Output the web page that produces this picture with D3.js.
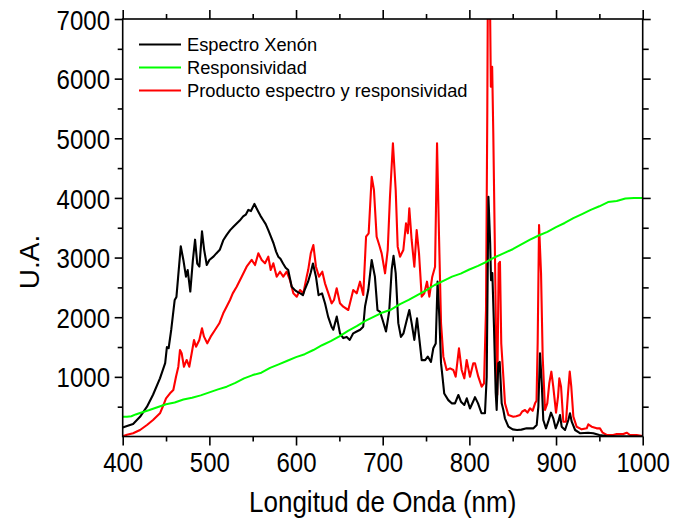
<!DOCTYPE html>
<html>
<head>
<meta charset="utf-8">
<script src="https://cdn.jsdelivr.net/npm/d3@7"></script>
<style>
  html, body { margin: 0; padding: 0; background: #fff; }
  svg { display: block; font-family: "Liberation Sans", Arial, sans-serif; }
</style>
</head>
<body>
<svg id="chart" width="673" height="523"></svg>
<script>
// ---------------- DATA ----------------
const xenonNm = [400,405,412,420,428,435,443,449,451,453,456,460,462,464,467,470,473,475,478,481,483.5,486,488.5,491.5,494,497,500,505,508,512,516,520,524,528,531.5,535,539,542,545,548,552,554,556.5,559,562,565,568,571,574,577,579.5,582,585,588,591,593,595,599,602,605,608,610,614,617,619.5,623,626,630,633.5,637,641,643,647,650.7,654.5,658.5,662,666,670,674,677.5,679.6,683.4,687.3,691,694,697,700,703.8,707.5,710.4,712.5,715,718,721,724,727.7,730.7,733.4,736.5,739.6,742,745,749,752,755.7,758.4,761.2,763.3,765.3,767.3,769,771,775.7,779.6,783.4,787.3,790.3,794.2,797,800.7,804.5,806.5,810,814,818,820,822,824,825,826.5,828.4,830.4,831.5,833.4,835,837.3,839.2,841,845,850,855,860,866,870,874,877.7,879.6,881.5,883.5,885.3,888.4,891,894.2,896.8,899.6,902.6,904.6,906.5,910.4,914.2,916.1,918.1,922,928,937,943,950,958,970,1000];
const xenonVal = [150,175,210,330,500,700,975,1230,1500,1480,1790,2290,2340,2680,3190,2960,2680,2790,2430,2960,3300,2900,2850,3440,3130,2875,2960,3020,3070,3130,3290,3380,3460,3520,3570,3620,3690,3720,3800,3780,3900,3840,3770,3700,3630,3560,3460,3350,3240,3100,3015,2980,2900,2830,2790,2650,2510,2450,2420,2400,2370,2460,2600,2750,2900,2680,2370,2400,2230,2010,1840,1790,2010,1730,1650,1670,1620,1730,1760,1790,1840,2180,2460,2960,2680,2120,2090,1950,1760,2100,2800,3030,2740,1900,1670,1730,1950,2120,1900,1620,1980,1670,1280,1280,1340,1250,1480,1560,2600,2010,1230,1000,720,610,556,556,696,584,528,640,470,590,660,556,390,390,1000,4020,3240,2620,2740,1840,730,444,1227,1250,556,444,305,164,120,109,115,137,137,137,193,500,1395,890,277,137,248,400,305,137,248,360,164,109,277,389,248,109,54,64,54,25,8,3,0];

const respNm = [400,405,410,415,420,430,440,450,460,470,480,490,500,510,520,530,540,550,560,570,580,590,600,610,620,630,640,650,660,670,680,690,700,710,720,730,740,750,760,770,780,790,800,810,820,830,840,850,860,870,880,890,900,910,920,930,940,950,960,970,980,990,1000];
const respVal = [330,330,340,370,395,440,490,540,570,620,650,690,740,790,835,900,975,1030,1070,1150,1210,1270,1330,1380,1450,1530,1600,1680,1770,1850,1940,2010,2080,2130,2220,2290,2370,2450,2540,2610,2680,2730,2800,2860,2930,3010,3075,3140,3220,3300,3370,3430,3510,3580,3660,3730,3800,3860,3930,3950,3990,4000,4000];

const prodNm = [400,405,412,420,428,435,443,447,450,454.6,458.4,461.5,464.2,466.1,468,470.7,473.8,476.8,479.6,482.3,484.6,488.4,491.5,493.8,497.6,501.5,506.5,511.5,516,520,523.8,527,531.5,537.3,543,548.8,552.7,556.5,560.4,564.2,568,570.8,573.8,577.7,581.5,585.3,589.2,593,596.9,600.8,604.6,608.4,612.3,614,617,620,623,626.5,630.3,633.4,637.3,641.1,643.8,646.9,650.7,654.5,660.3,666,670,673.8,677.6,680.8,683.8,687.3,689.9,693,696,698.8,702.7,705.8,708.4,711.8,715,717.3,720,723.8,726.9,729,730.7,733.4,736.5,739.2,741.9,745,748,751.1,753.8,757.2,760.4,762.7,765,767.3,770,773.8,777.7,781.5,784.2,788,791.1,794.2,796.9,800.7,804.5,806.5,810.3,814.2,816.9,819.2,820.7,821.8,823.8,824.8,826.3,827.6,829.2,830.7,832.2,833.8,835.3,836.8,839.2,841.1,845,850.7,854,858.4,861,864.2,867,870,873,875.8,877.5,878.8,880.4,882.7,884.6,887.3,889.9,892.2,894.6,896.8,900,902.3,903.8,905.8,908.4,911.5,913.8,915.8,917.6,920,923.8,929.6,935.4,937.2,941.1,946.9,950.7,953.8,958.5,966,970,977.7,981.5,985.4,993,1000];
const prodVal = [5,30,54,109,193,277,389,528,640,724,780,1003,1170,1450,1395,1170,1283,1170,1395,1618,1506,1618,1814,1674,1562,1674,1786,1898,2065,2180,2289,2400,2512,2680,2847,2960,2875,3071,2960,2904,3015,2792,2904,2680,2763,2680,2763,2624,2400,2344,2456,2400,2680,2790,3070,3210,2847,2680,2763,2568,2400,2233,2289,2484,2233,2176,2121,2456,2400,2596,2372,3350,3407,4356,4133,3350,3211,3071,2736,3127,4020,4916,4133,3183,3015,3127,3574,3407,3826,3295,2847,3462,3071,2344,2400,2596,2344,2680,2847,4916,3350,1898,1338,1115,1143,1115,1003,1479,1115,975,1283,1003,1227,1227,1003,835,892,2121,5474,8900,7300,5865,6200,5087,3407,1730,700,2900,2930,1560,1003,556,360,332,340,360,420,444,400,472,430,556,600,1565,3545,2736,1338,444,556,892,1087,835,400,667,975,835,248,248,724,1087,835,332,164,120,137,204,164,137,137,64,25,25,42,42,64,25,25,8];

const xTicks = [400,500,600,700,800,900,1000];
const xMinor = [450,550,650,750,850,950];
const yTicks = [1000,2000,3000,4000,5000,6000,7000];
const yMinor = [500,1500,2500,3500,4500,5500,6500];
const legendLabels = ["Espectro Xenón","Responsividad","Producto espectro y responsividad"];
const legendColors = ["#000000","#00ff00","#ff0000"];
const xTitle = "Longitud de Onda (nm)";
const yTitle = "U.A.";

// ---------------- LAYOUT ----------------
const L = 122.7, R = 642.7, T = 19, B = 436.5;
const svg = d3.select("#chart");
const x = d3.scaleLinear().domain([400,1000]).range([L,R]);
const y = d3.scaleLinear().domain([0,7000]).range([B,T]);

svg.append("defs").append("clipPath").attr("id","clip")
  .append("rect").attr("x",L).attr("y",T).attr("width",R-L).attr("height",B-T);

function series(nm, val){ return nm.map((d,i)=>({x:d,y:val[i]})); }
const line = d3.line().x(d=>x(d.x)).y(d=>y(d.y));

const plot = svg.append("g").attr("clip-path","url(#clip)");
plot.append("path").datum(series(prodNm,prodVal)).attr("d",line)
  .attr("fill","none").attr("stroke","#ff0000").attr("stroke-width",2.1).attr("stroke-linejoin","round");
plot.append("path").datum(series(xenonNm,xenonVal)).attr("d",line)
  .attr("fill","none").attr("stroke","#000000").attr("stroke-width",2.1).attr("stroke-linejoin","round");
plot.append("path").datum(series(respNm,respVal)).attr("d",line)
  .attr("fill","none").attr("stroke","#00ff00").attr("stroke-width",2).attr("stroke-linejoin","round");

// ---------------- AXES ----------------
const sw = 1.6;
function styleAxis(g){
  g.select(".domain").remove();
  g.selectAll(".tick line").attr("stroke","#000").attr("stroke-width",sw);
}
// bottom
const gb = svg.append("g").attr("transform",`translate(0,${B})`)
  .call(d3.axisBottom(x).tickValues(xTicks).tickSize(9).tickSizeOuter(0).tickFormat(d3.format("d")));
styleAxis(gb);
gb.selectAll("text").attr("y",0).attr("dy",0).attr("fill","#000")
  .attr("font-size",24).attr("transform","translate(0,35.5) scale(1,1.17)");
const gbm = svg.append("g").attr("transform",`translate(0,${B})`)
  .call(d3.axisBottom(x).tickValues(xMinor).tickSize(5).tickSizeOuter(0).tickFormat(""));
styleAxis(gbm);
// top
const gt = svg.append("g").attr("transform",`translate(0,${T})`)
  .call(d3.axisTop(x).tickValues(xTicks).tickSize(9).tickSizeOuter(0).tickFormat(""));
styleAxis(gt);
const gtm = svg.append("g").attr("transform",`translate(0,${T})`)
  .call(d3.axisTop(x).tickValues(xMinor).tickSize(5).tickSizeOuter(0).tickFormat(""));
styleAxis(gtm);
// left
const gl = svg.append("g").attr("transform",`translate(${L},0)`)
  .call(d3.axisLeft(y).tickValues(yTicks).tickSize(8).tickSizeOuter(0).tickFormat(d3.format("d")));
styleAxis(gl);
gl.selectAll("text").attr("x",0).attr("dy","0.36em").attr("fill","#000")
  .attr("font-size",24).attr("transform","translate(-12.7,0) scale(1,1.17)");
const glm = svg.append("g").attr("transform",`translate(${L},0)`)
  .call(d3.axisLeft(y).tickValues(yMinor).tickSize(5).tickSizeOuter(0).tickFormat(""));
styleAxis(glm);
// right
const gr = svg.append("g").attr("transform",`translate(${R},0)`)
  .call(d3.axisRight(y).tickValues(yTicks).tickSize(8).tickSizeOuter(0).tickFormat(""));
styleAxis(gr);
const grm = svg.append("g").attr("transform",`translate(${R},0)`)
  .call(d3.axisRight(y).tickValues(yMinor).tickSize(6).tickSizeOuter(0).tickFormat(""));
styleAxis(grm);

// frame
svg.append("rect").attr("x",L).attr("y",T).attr("width",R-L).attr("height",B-T)
  .attr("fill","none").attr("stroke","#000").attr("stroke-width",sw);

// titles
svg.append("text").attr("transform",`translate(${(L+R)/2},512) scale(1,1.12)`)
  .attr("text-anchor","middle").attr("font-size",26).attr("fill","#000").text(xTitle);
svg.append("text").attr("transform",`translate(39,262) rotate(-90)`)
  .attr("text-anchor","middle").attr("font-size",28).attr("fill","#000").text(yTitle);

// legend
const lg = svg.append("g");
legendLabels.forEach((lab,i)=>{
  const yy = 44.5 + i*23;
  lg.append("line").attr("x1",139).attr("x2",181).attr("y1",yy).attr("y2",yy)
    .attr("stroke",legendColors[i]).attr("stroke-width",2);
  lg.append("text").attr("x",187).attr("y",yy+6.6).attr("font-size",18.3).attr("fill","#000").text(lab);
});
</script>
</body>
</html>
